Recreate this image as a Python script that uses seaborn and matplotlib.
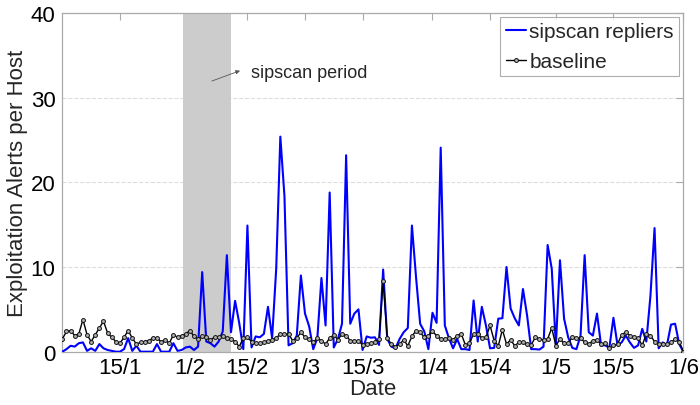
import numpy as np
import pandas as pd
import seaborn as sns
import matplotlib.pyplot as plt

# daily values, 1 Jan 2007 .. 1 Jun 2007
start_date = '2007-01-01'
end_date = '2007-06-01'

sipscan_repliers = [
    0, 0.3, 0.7, 0.6, 1.0, 1.1, 0.1, 0.4, 0.1, 0.9,
    0.4, 0.2, 0.1, 0.0, 0.0, 0.3, 1.6, 0.1, 0.7, 0.0,
    0.0, 0.0, 0.0, 0.9, 0.0, 0.0, 0.0, 1.0, 0.1, 0.2,
    0.5, 0.6, 0.2, 0.6, 9.4, 1.2, 1.0, 0.6, 1.2, 2.4,
    11.4, 2.3, 6.0, 3.4, 0.3, 14.9, 0.5, 1.8, 1.7, 2.1,
    5.3, 1.6, 9.8, 25.4, 18.4, 0.75, 1.0, 1.9, 9.0, 4.5,
    3.0, 0.3, 1.6, 8.7, 3.1, 18.8, 0.5, 1.5, 3.3, 23.2,
    3.3, 4.5, 5.0, 0.2, 1.8, 1.65, 1.7, 0.8, 9.7, 1.5,
    0.6, 0.4, 1.5, 2.3, 2.8, 14.9, 8.8, 3.3, 2.4, 0.3,
    4.6, 3.4, 24.1, 3.1, 1.6, 0.4, 1.5, 0.3, 0.3, 0.2,
    6.05, 1.2, 5.3, 3.1, 0.4, 0.45, 3.9, 3.95, 10.0, 5.1,
    3.95, 3.1, 7.4, 4.3, 0.3, 0.3, 0.25, 0.6, 12.6, 9.8,
    0.7, 10.8, 3.9, 1.7, 0.45, 0.3, 1.9, 11.4, 2.3, 1.9,
    4.5, 0.75, 0.75, 0.45, 4.0, 0.75, 1.1, 1.9, 1.1, 0.45,
    0.75, 2.7, 1.2, 6.6, 14.6, 0.4, 1.1, 0.75, 3.2, 3.3,
    0.9, 0.0,
]

baseline = [
    1.5, 2.4, 2.5, 1.9, 2.1, 3.8, 2.0, 1.2, 2.0, 2.8,
    3.6, 2.2, 1.7, 1.2, 1.0, 1.7, 2.5, 1.6, 0.9, 1.1,
    1.2, 1.3, 1.6, 1.6, 1.2, 1.4, 1.0, 2.0, 1.7, 1.9,
    2.1, 2.5, 1.8, 1.5, 1.8, 1.7, 1.4, 1.7, 1.7, 1.8,
    1.6, 1.5, 1.2, 0.6, 1.6, 1.7, 1.2, 1.0, 1.0, 1.1,
    1.3, 1.4, 1.6, 2.1, 2.1, 2.1, 1.3, 1.6, 2.3, 1.7,
    1.5, 1.1, 1.6, 1.3, 0.9, 1.6, 2.0, 1.4, 2.1, 1.9,
    1.3, 1.3, 1.3, 0.8, 0.9, 1.0, 1.1, 1.5, 8.3, 1.6,
    0.9, 0.6, 0.9, 1.4, 0.7, 1.8, 2.5, 2.3, 1.7, 1.9,
    2.4, 1.9, 1.5, 1.5, 1.6, 1.4, 1.9, 2.1, 0.8, 1.0,
    2.1, 2.1, 1.6, 1.7, 3.1, 1.3, 0.7, 2.6, 0.9, 1.4,
    0.7, 1.1, 1.1, 0.9, 0.8, 1.7, 1.5, 1.4, 1.5, 2.8,
    0.7, 1.5, 1.0, 1.0, 1.7, 1.6, 1.6, 1.1, 0.9, 1.3,
    1.4, 0.9, 1.0, 0.4, 0.75, 0.9, 2.0, 2.3, 1.9, 1.7,
    1.6, 0.75, 2.1, 1.9, 1.2, 0.85, 0.9, 0.85, 1.1, 1.5,
    1.2, 0.0,
]

# sipscan period (shaded)
scan_start = '2007-01-30 07:00'
scan_end = '2007-02-10 22:00'

tick_dates = ['2007-01-15', '2007-02-01', '2007-02-15', '2007-03-01', '2007-03-15',
              '2007-04-01', '2007-04-15', '2007-05-01', '2007-05-15', '2007-06-01']
tick_labels = ['15/1', '1/2', '15/2', '1/3', '15/3', '1/4', '15/4', '1/5', '15/5', '1/6']

dates = pd.date_range(start_date, end_date, freq='D')
df = pd.DataFrame({'date': dates, 'sipscan repliers': sipscan_repliers, 'baseline': baseline})

sns.set_theme(style='white')
plt.rcParams['font.family'] = ['Liberation Sans', 'DejaVu Sans']

fig, ax = plt.subplots(figsize=(7, 4.06), dpi=100)
fig.subplots_adjust(left=0.0891, right=0.9762, bottom=0.1313, top=0.9655)

ax.axvspan(pd.Timestamp(scan_start), pd.Timestamp(scan_end), color='#cccccc', lw=0, zorder=1)

sns.lineplot(data=df, x='date', y='sipscan repliers', color='#0000ff', lw=1.5,
             label='sipscan repliers', ax=ax, zorder=3)
sns.lineplot(data=df, x='date', y='baseline', color='black', lw=1.0, marker='o',
             markersize=2.8, markerfacecolor='#b0b0b0', markeredgecolor='#111111',
             markeredgewidth=0.7, label='baseline', ax=ax, zorder=4)

ax.set_xlim(pd.Timestamp(start_date), pd.Timestamp(end_date))
ax.set_ylim(0, 40)
ax.set_yticks([0, 10, 20, 30, 40])
ax.set_xticks(pd.to_datetime(tick_dates))
ax.set_xticklabels(tick_labels)

ax.yaxis.grid(True, linestyle='--', color='#dddddd', lw=0.8)
ax.set_axisbelow(True)
for s in ax.spines.values():
    s.set_color('#aaaaaa')
    s.set_linewidth(0.9)
ax.tick_params(direction='in', top=True, right=True, length=5, width=0.8,
               color='#aaaaaa', labelsize=16, labelcolor='black', pad=4)
ax.tick_params(axis='y', pad=5)

ax.set_xlabel('Date', fontsize=16, labelpad=0)
ax.set_ylabel('Exploitation Alerts per Host', fontsize=16, labelpad=2)

# arrow + text for the scan period
ax.annotate('', xy=(pd.Timestamp('2007-02-13 20:00'), 33.3),
            xytext=(pd.Timestamp('2007-02-05 17:00'), 31.85),
            arrowprops=dict(arrowstyle='-|>', color='#555555', lw=0.6, mutation_scale=6))
ax.text(pd.Timestamp('2007-02-15 22:00'), 33.0, 'sipscan period', fontsize=13,
        va='center', ha='left')

leg = ax.legend(loc='upper right', fontsize=15, frameon=True, fancybox=False,
                edgecolor='#999999', borderaxespad=0.2, handlelength=1.0,
                handletextpad=0.15, borderpad=0.25, labelspacing=0.5)
leg.get_frame().set_linewidth(0.8)

plt.savefig('out.png', dpi=100)
